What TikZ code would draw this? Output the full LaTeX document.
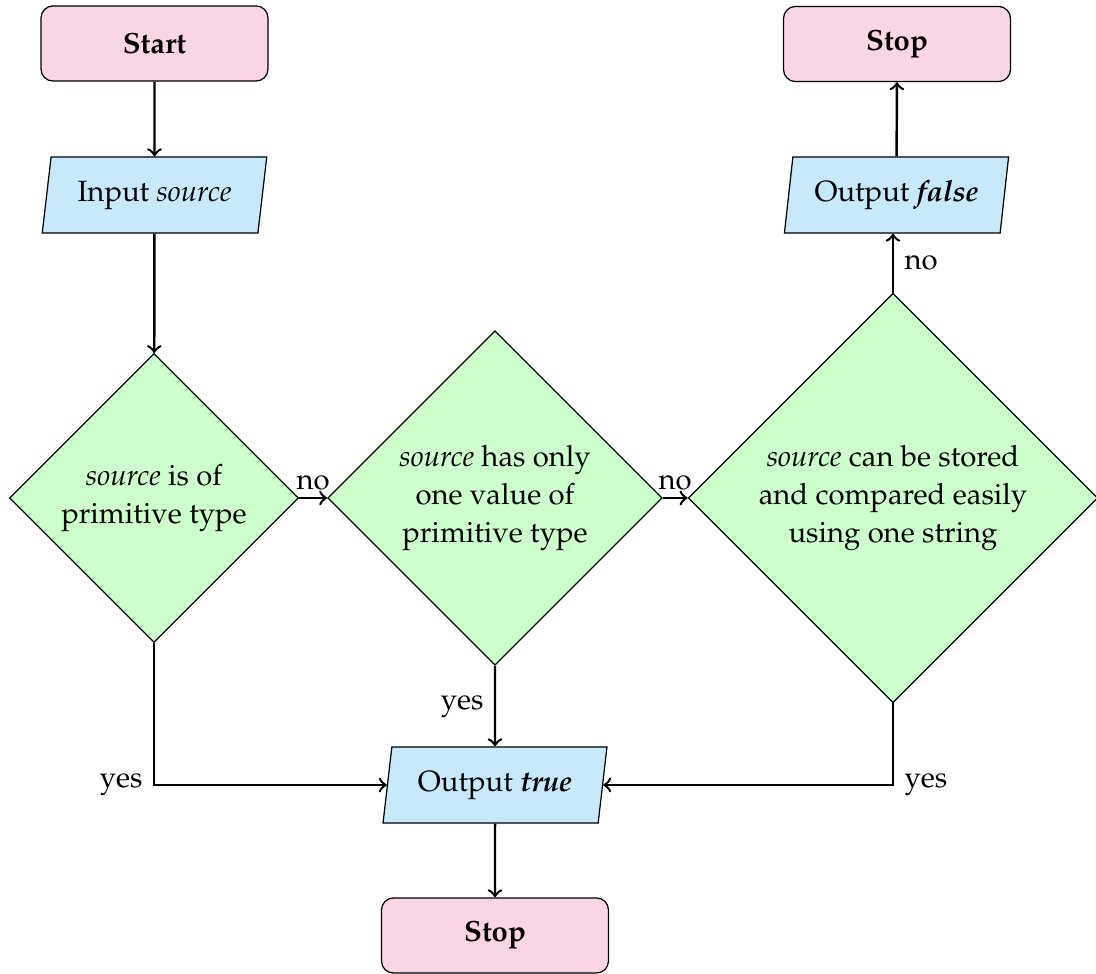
\documentclass[tikz,border=0pt]{standalone}
\usepackage[T1]{fontenc}
\usepackage{mathpazo}
\usetikzlibrary{shapes.geometric}
\definecolor{termfill}{RGB}{249,214,230}
\definecolor{iofill}{RGB}{199,233,249}
\definecolor{decfill}{RGB}{204,255,204}
\newcommand{\diagfont}{\fontsize{9.5}{12.2}\selectfont}
\tikzset{
  terminal/.style={draw, thin, fill=termfill, rounded corners=3.9pt,
    minimum width=73.7pt, minimum height=24.4pt, font=\diagfont\bfseries, inner sep=0pt},
  iobox/.style={draw, thin, fill=iofill, trapezium, trapezium left angle=77,
    trapezium right angle=103, trapezium stretches=true,
    minimum width=73.1pt, minimum height=24.7pt, inner sep=0pt},
  decision/.style={draw, thin, fill=decfill, diamond, aspect=1,
    align=center, inner sep=0pt, minimum width=#1, minimum height=#1},
  flow/.style={->, thick},
}
\begin{document}
\begin{tikzpicture}[x=0.3247pt, y=-0.3247pt, font=\diagfont]
\useasboundingbox (0,0) rectangle (1096,974);

% nodes
\node[terminal] (start) at (154.5,43.5) {Start};
\node[iobox] (input) at (154.5,195) {Input \textit{source}};
\node[decision=93.8pt] (prim) at (154,498)
  {\textit{source} is of\\primitive type};
\node[decision=108.6pt] (onev) at (495,498)
  {\textit{source} has only\\one value of\\primitive type};
\node[decision=133pt] (str) at (893,498)
  {\textit{source} can be stored\\and compared easily\\using one string};
\node[iobox] (ofalse) at (896.5,195) {Output \textbf{\textit{false}}};
\node[terminal] (stoptop) at (897,44) {Stop};
\node[iobox] (otrue) at (495,785) {Output \textbf{\textit{true}}};
\node[terminal] (stopbot) at (495,935.5) {Stop};

% connectors
\draw[flow] (start) -- (input);
\draw[flow] (input) -- (prim);
\draw[flow] (prim.east) -- node[above, inner sep=2pt] {no} (onev.west);
\draw[flow] (onev.east) -- node[above, inner sep=2pt] {no} (str.west);
\draw[flow] (str.north) -- node[right] {no} (str.north |- ofalse.south);
\draw[flow] (ofalse) -- (stoptop);
\draw[flow] (onev.south) -- node[left] {yes} (otrue.north);
\draw[flow] (prim.south) |- node[pos=0.5, left] {yes} (otrue.west);
\draw[flow] (str.south) |- node[pos=0.5, right] {yes} (otrue.east);
\draw[flow] (otrue) -- (stopbot);
\end{tikzpicture}
\end{document}
